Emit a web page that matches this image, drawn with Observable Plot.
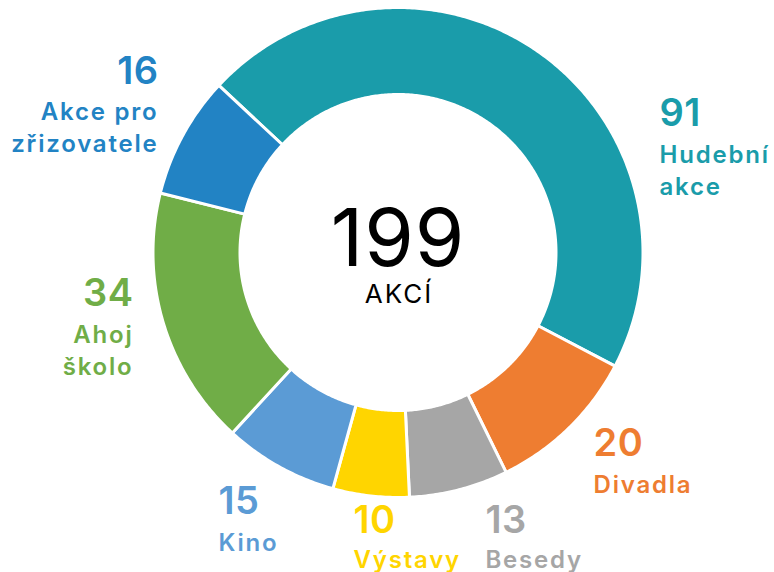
<!DOCTYPE html>
<html><head><meta charset="utf-8">
<script src="https://cdn.jsdelivr.net/npm/d3@7"></script>
<script src="https://cdn.jsdelivr.net/npm/@observablehq/plot@0.6"></script>
<style>
body{margin:0;background:#fff;}
#chart svg{display:block;}
g[font-size="24"] text{letter-spacing:1.8px;}
g[font-size="38"] text{letter-spacing:0.5px;}
g[font-size="26"] text{letter-spacing:2px;}
g[font-size="80"] text{letter-spacing:1px;}
</style></head><body><div id="chart"></div>
<script>
// ---- data ----
const categories = ["Hudební akce","Divadla","Besedy","Výstavy","Kino","Ahoj školo","Akce pro zřizovatele"];
const values = [91, 20, 13, 10, 15, 34, 16];
const labelText = ["Hudební\nakce","Divadla","Besedy","Výstavy","Kino","Ahoj\nškolo","Akce pro\nzřizovatele"];
const centerLabel = "AKCÍ";

// ---- styles / layout ----
const colors = ["#1a9caa","#ee7d31","#a6a6a6","#ffd500","#5b9bd5","#70ad47","#2283c4"];
const W = 774, H = 572, cx = 397.5, cy = 252, rOuter = 245, rInner = 158;
const startAngle = -47 * Math.PI / 180;
// number baseline, label first baseline, x, anchor
const labelLayout = [
  {x: 659, nb: 125, lb: 157, anchor: "start"},
  {x: 593, nb: 455, lb: 487, anchor: "start"},
  {x: 485, nb: 532, lb: 562, anchor: "start"},
  {x: 353, nb: 532, lb: 562, anchor: "start"},
  {x: 218, nb: 513, lb: 545, anchor: "start"},
  {x: 133, nb: 305, lb: 337, anchor: "end"},
  {x: 158, nb: 83,  lb: 114, anchor: "end"}
];
const numFS = 38, labFS = 24, totFS = 80, totLabFS = 26;
const font = "Inter, 'Noto Sans', sans-serif";

const arcs = d3.pie().sort(null).startAngle(startAngle).endAngle(startAngle + 2 * Math.PI)(values);
const pts = [];
arcs.forEach((a, i) => {
  const n = Math.max(8, Math.ceil((a.endAngle - a.startAngle) / 0.01));
  for (let k = 0; k <= n; k++) {
    const t = a.startAngle + (a.endAngle - a.startAngle) * k / n;
    pts.push({cat: categories[i], x: cx + rOuter * Math.sin(t), y: cy - rOuter * Math.cos(t)});
  }
  for (let k = n; k >= 0; k--) {
    const t = a.startAngle + (a.endAngle - a.startAngle) * k / n;
    pts.push({cat: categories[i], x: cx + rInner * Math.sin(t), y: cy - rInner * Math.cos(t)});
  }
});

const rows = categories.map((c, i) => ({
  cat: c, value: values[i], label: labelText[i], ...labelLayout[i]
}));
const total = d3.sum(values);

const numMark = (anchor) => Plot.text(rows.filter(d => d.anchor === anchor), {
  x: "x", y: d => d.nb - 0.71 * numFS, text: d => String(d.value), fill: "cat",
  textAnchor: anchor, lineAnchor: "top", fontSize: numFS, fontWeight: 600, fontFamily: font
});
const labMark = (anchor) => Plot.text(rows.filter(d => d.anchor === anchor), {
  x: "x", y: d => d.lb - 0.71 * labFS, text: "label", fill: "cat",
  textAnchor: anchor, lineAnchor: "top", fontSize: labFS, fontWeight: 600, fontFamily: font, lineHeight: 1.33
});

const chart = Plot.plot({
  width: W, height: H, margin: 0,
  x: {domain: [0, W], range: [0, W], axis: null},
  y: {domain: [0, H], range: [0, H], axis: null},
  color: {domain: categories, range: colors},
  marks: [
    Plot.line(pts, {x: "x", y: "y", z: "cat", fill: "cat", stroke: "white", strokeWidth: 3, curve: "linear-closed"}),
    numMark("start"), numMark("end"), labMark("start"), labMark("end"),
    Plot.text([total], {x: () => cx, y: () => 265 - 0.71 * totFS, text: d => String(d), lineAnchor: "top", fontSize: totFS, fontWeight: 400, fill: "black", fontFamily: font}),
    Plot.text([centerLabel], {x: () => cx + 1, y: () => 302 - 0.71 * totLabFS, text: d => d, lineAnchor: "top", fontSize: totLabFS, fontWeight: 400, fill: "black", fontFamily: font})
  ]
});
document.getElementById("chart").append(chart);
</script></body></html>
